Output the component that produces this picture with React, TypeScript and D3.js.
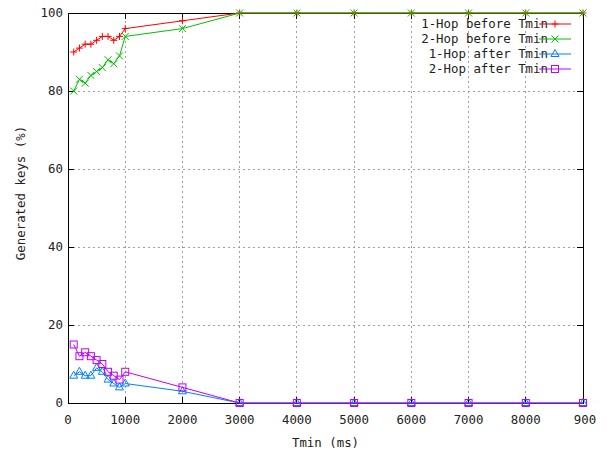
import * as d3 from 'd3';

// Tmin values (ms) shared by every series
const tmin = [100, 200, 300, 400, 500, 600, 700, 800, 900, 1000, 2000, 3000, 4000, 5000, 6000, 7000, 8000, 9000];

const oneHopBefore = [90, 91, 92, 92, 93, 94, 94, 93, 94, 96, 98, 100, 100, 100, 100, 100, 100, 100];
const twoHopBefore = [80, 83, 82, 84, 85, 86, 88, 87, 89, 94, 96, 100, 100, 100, 100, 100, 100, 100];
const oneHopAfter = [7, 8, 7, 7, 9, 8, 6, 5, 4, 5, 3, 0, 0, 0, 0, 0, 0, 0];
const twoHopAfter = [15, 12, 13, 12, 11, 10, 8, 7, 6, 8, 4, 0, 0, 0, 0, 0, 0, 0];

const xTicks = [0, 1000, 2000, 3000, 4000, 5000, 6000, 7000, 8000, 9000];
const xTickLabels = ['0', '1000', '2000', '3000', '4000', '5000', '6000', '7000', '8000', '900'];
const yTicks = [0, 20, 40, 60, 80, 100];

type Marker = 'plus' | 'cross' | 'triangle' | 'square';

const series: { name: string; values: number[]; color: string; marker: Marker }[] = [
    { name: '1-Hop before Tmin', values: oneHopBefore, color: '#ff0000', marker: 'plus' },
    { name: '2-Hop before Tmin', values: twoHopBefore, color: '#00c000', marker: 'cross' },
    { name: '1-Hop after Tmin', values: oneHopAfter, color: '#0080ff', marker: 'triangle' },
    { name: '2-Hop after Tmin', values: twoHopAfter, color: '#c000ff', marker: 'square' },
];

const width = 606;
const height = 453;
const margin = { left: 68, right: 23, top: 13, bottom: 50 };
const font = '"DejaVu Sans Mono", "Liberation Mono", monospace';

function MarkerShape({ type, x, y, color }: { type: Marker; x: number; y: number; color: string }) {
    const s = 3.5;
    if (type === 'plus') {
        return <path d={`M${x - s},${y}H${x + s}M${x},${y - s}V${y + s}`} stroke={color} fill="none" />;
    }
    if (type === 'cross') {
        return <path d={`M${x - s},${y - s}L${x + s},${y + s}M${x - s},${y + s}L${x + s},${y - s}`} stroke={color} fill="none" />;
    }
    if (type === 'triangle') {
        return <path d={`M${x},${y - 4.5}L${x + 4},${y + 2.5}L${x - 4},${y + 2.5}Z`} stroke={color} fill="none" />;
    }
    return <rect x={x - s} y={y - s} width={s * 2} height={s * 2} stroke={color} fill="none" />;
}

export default function App() {
    const x = d3.scaleLinear().domain([0, 9000]).range([margin.left, width - margin.right]);
    const y = d3.scaleLinear().domain([0, 100]).range([height - margin.bottom, margin.top]);
    const [x0, x1] = x.range();
    const [y0, y1] = y.range();
    const tickLen = 6;

    const line = d3.line<number>()
        .x((_, i) => x(tmin[i]))
        .y((d) => y(d));

    return (
        <svg width={width} height={height} style={{ position: 'absolute', left: 0, top: 0, background: '#fff' }}
            fontFamily={font} fontSize={12.4}>
            {/* grid */}
            <g stroke="#a0a0a0" strokeDasharray="2,3" shapeRendering="crispEdges">
                {xTicks.slice(1, -1).map((t) => (
                    <line key={`gx${t}`} x1={x(t)} x2={x(t)} y1={y0} y2={y1} />
                ))}
                {yTicks.slice(1, -1).map((t) => (
                    <line key={`gy${t}`} x1={x0} x2={x1} y1={y(t)} y2={y(t)} />
                ))}
            </g>

            {/* ticks */}
            <g stroke="#000" shapeRendering="crispEdges">
                {xTicks.map((t) => (
                    <g key={`tx${t}`}>
                        <line x1={x(t)} x2={x(t)} y1={y0} y2={y0 - tickLen} />
                        <line x1={x(t)} x2={x(t)} y1={y1} y2={y1 + tickLen} />
                    </g>
                ))}
                {yTicks.map((t) => (
                    <g key={`ty${t}`}>
                        <line x1={x0} x2={x0 + tickLen} y1={y(t)} y2={y(t)} />
                        <line x1={x1} x2={x1 - tickLen} y1={y(t)} y2={y(t)} />
                    </g>
                ))}
            </g>

            {/* border */}
            <rect x={x0} y={y1} width={x1 - x0} height={y0 - y1} fill="none" stroke="#000" shapeRendering="crispEdges" />

            {/* tick labels */}
            <g fill="#222">
                {xTicks.map((t, i) => (
                    <text key={`lx${t}`} x={i === xTicks.length - 1 ? x(t) + 2 : x(t)} y={y0 + 21} textAnchor="middle">
                        {xTickLabels[i]}
                    </text>
                ))}
                {yTicks.map((t) => (
                    <text key={`ly${t}`} x={x0 - 5} y={y(t) + 4} textAnchor="end">{t}</text>
                ))}
            </g>

            {/* axis titles */}
            <text x={(x0 + x1) / 2} y={447} textAnchor="middle" fill="#222">Tmin (ms)</text>
            <text transform={`translate(25,193) rotate(-90)`} textAnchor="middle" fill="#222">Generated keys (%)</text>

            {/* series */}
            {series.map((s) => (
                <g key={s.name}>
                    <path d={line(s.values) || ''} fill="none" stroke={s.color} strokeWidth={1} />
                    {s.values.map((v, i) => (
                        <MarkerShape key={i} type={s.marker} x={x(tmin[i])} y={y(v)} color={s.color} />
                    ))}
                </g>
            ))}

            {/* legend */}
            {series.map((s, i) => {
                const ly = 24 + i * 15;
                return (
                    <g key={`leg${s.name}`}>
                        <text x={548} y={ly + 4} textAnchor="end" fill="#222">{s.name}</text>
                        <line x1={539} x2={571} y1={ly} y2={ly} stroke={s.color} />
                        <MarkerShape type={s.marker} x={555} y={ly} color={s.color} />
                    </g>
                );
            })}
        </svg>
    );
}
